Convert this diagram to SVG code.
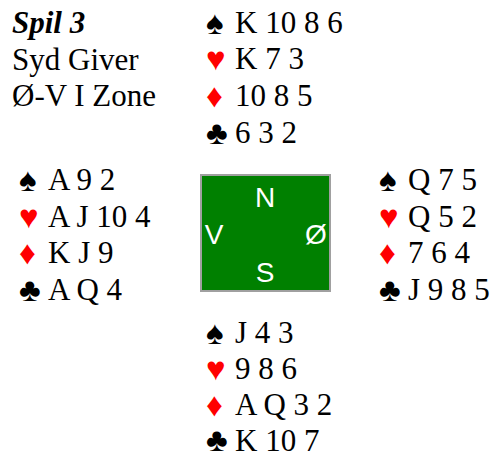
<svg xmlns="http://www.w3.org/2000/svg" width="492" height="458" viewBox="0 0 492 458">
<style>
.t{font-family:"Liberation Serif","Times New Roman",serif;font-size:31px;fill:#000}
.s{font-family:"Liberation Serif","DejaVu Sans",serif;font-size:33px}
.r{fill:#ff0000}
.b{fill:#000}
.d{font-family:"Liberation Sans",Arial,sans-serif;font-size:28px;fill:#fff;text-anchor:middle}
</style>
<rect width="492" height="458" fill="#fff"/>
<g id="info">
<text class="t" x="12" y="33" font-weight="bold" font-style="italic">Spil 3</text>
<text class="t" x="12" y="70">Syd Giver</text>
<text class="t" x="12" y="106">Ø-V I Zone</text>
</g>
<g id="north">
<text class="s b" x="206" y="34">♠</text><text class="t" x="235" y="33">K 10 8 6</text>
<text class="s r" x="206" y="70">♥</text><text class="t" x="235" y="69">K 7 3</text>
<text class="s r" x="206" y="107">♦</text><text class="t" x="235" y="106">10 8 5</text>
<text class="s b" x="206" y="144">♣</text><text class="t" x="235" y="143">6 3 2</text>
</g>
<g id="west">
<text class="s b" x="19" y="191">♠</text><text class="t" x="48" y="190">A 9 2</text>
<text class="s r" x="19" y="228">♥</text><text class="t" x="48" y="227">A J 10 4</text>
<text class="s r" x="19" y="264">♦</text><text class="t" x="48" y="263">K J 9</text>
<text class="s b" x="19" y="301">♣</text><text class="t" x="48" y="300">A Q 4</text>
</g>
<g id="east">
<text class="s b" x="379" y="191">♠</text><text class="t" x="408" y="190">Q 7 5</text>
<text class="s r" x="379" y="228">♥</text><text class="t" x="408" y="227">Q 5 2</text>
<text class="s r" x="379" y="264">♦</text><text class="t" x="408" y="263">7 6 4</text>
<text class="s b" x="379" y="301">♣</text><text class="t" x="408" y="300">J 9 8 5</text>
</g>
<g id="south">
<text class="s b" x="206" y="344">♠</text><text class="t" x="235" y="343">J 4 3</text>
<text class="s r" x="206" y="380">♥</text><text class="t" x="235" y="379">9 8 6</text>
<text class="s r" x="206" y="416">♦</text><text class="t" x="235" y="415">A Q 3 2</text>
<text class="s b" x="206" y="451">♣</text><text class="t" x="235" y="451">K 10 7</text>
</g>
<g id="table">
<rect x="201" y="175" width="129" height="116" fill="#008000" stroke="#a0a0a0" stroke-width="2"/>
<text class="d" x="265" y="207">N</text>
<text class="d" x="214" y="244">V</text>
<text class="d" x="316" y="244">Ø</text>
<text class="d" x="265" y="282">S</text>
</g>
</svg>
